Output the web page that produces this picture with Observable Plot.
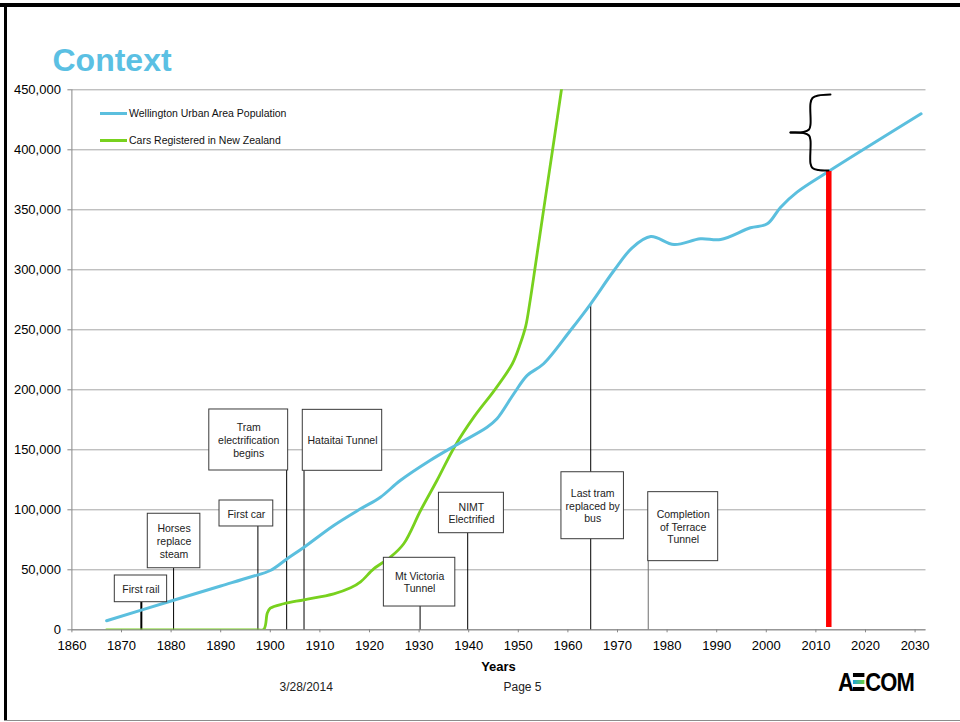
<!DOCTYPE html>
<html><head><meta charset="utf-8">
<script src="https://cdn.jsdelivr.net/npm/d3@7"></script>
<script src="https://cdn.jsdelivr.net/npm/@observablehq/plot@0.6"></script>
<style>
html,body{margin:0;padding:0;background:#fff;}
#page{position:relative;width:960px;height:722px;overflow:hidden;background:#fff;font-family:"Liberation Sans",Arial,sans-serif;color:#000;}
#page svg{position:absolute;left:0;top:0;}
.abs{position:absolute;white-space:nowrap;line-height:1;}
</style></head><body><div id="page"></div>
<script>
// ---- Data ----
const popYears  = [1867, 1880, 1890, 1896, 1900, 1903.4, 1906.8, 1912.8, 1918.2, 1922.2, 1926.2, 1932.2, 1937.3, 1943.7, 1945.7, 1949.1, 1951.8, 1955.1, 1960.5, 1964.6, 1969.3, 1973, 1976.7, 1981.4, 1986.7, 1990.8, 1996.8, 2000.2, 2002.9, 2006.2, 2012.3, 2031.2];
const popValues = [7500, 24000, 36500, 44000, 49400, 59200, 68800, 86900, 100800, 110500, 124400, 141100, 153600, 168800, 175800, 196700, 212000, 221700, 249400, 271700, 299400, 318500, 327700, 321000, 325800, 325200, 335000, 338300, 352200, 364700, 381300, 430000];

const carYears  = [1867, 1880, 1890, 1897, 1898.7, 1899.4, 1900, 1902.7, 1906.8, 1912.8, 1916.2, 1918.2, 1920.9, 1924.2, 1926.9, 1930.3, 1933.6, 1937.3, 1941, 1945.4, 1948.8, 1950.4, 1951.5, 1952.3, 1953.5, 1955.5, 1957.2, 1958.7, 1960.5];
const carValues = [0, 0, 0, 0, 500, 14000, 18000, 21700, 25000, 30000, 35000, 40000, 51000, 60500, 71700, 99400, 124400, 153600, 177000, 200800, 221700, 238300, 253000, 272000, 305000, 361000, 408000, 450000, 500000];

const seriesNames = ["Wellington Urban Area Population", "Cars Registered in New Zealand"];

const xTicks = d3.range(1860, 2031, 10);
const yTicks = d3.range(0, 450001, 50000);

// Events (year the line marks, value where its leader ends)
const eventLabels = ["First rail", "Horses\nreplace\nsteam", "First car", "Tram\nelectrification\nbegins", "Hataitai Tunnel", "Mt Victoria\nTunnel", "NIMT\nElectrified", "Last tram\nreplaced by\nbus", "Completion\nof Terrace\nTunnel"];
const eventYears  = [1874, 1880.5, 1897.5, 1903.3, 1906.8, 1930.2, 1939.8, 1964.6, 1976.2];
const eventTops   = [23000, 51300, 86100, 132750, 132500, 19400, 80500, 271700, 62000];

// Annotation label boxes, in data units (years / values)
const boxX1 = [1868.65, 1875.3, 1889.76, 1887.7, 1906.55, 1922.9, 1934.0, 1958.7, 1976.2];
const boxX2 = [1879.2, 1885.9, 1900.6, 1903.6, 1922.56, 1937.3, 1947.1, 1971.3, 1990.3];
const boxY1 = [23000, 51300, 86100, 132750, 132500, 19400, 80500, 75500, 57200];
const boxY2 = [45250, 96700, 107750, 183600, 183300, 60000, 114200, 131300, 114700];

// Current year marker and bracket
const nowYear = 2012.6;
const nowBottom = 2000;
const nowTop = 382000;
const braceUpperYears  = [2004.88, 2007.5, 2008.61, 2008.91, 2008.91, 2009.31, 2010.52, 2012.94];
const braceUpperValues = [414417, 414833, 416917, 421083, 438583, 443167, 445250, 446083];
const braceLowerYears  = [2004.88, 2007.5, 2008.61, 2008.91, 2008.91, 2009.31, 2010.52, 2012.54];
const braceLowerValues = [414417, 414000, 411917, 407750, 388583, 384833, 383167, 382750];

// ---- Build ----
const BLUE = "#5BBFDE", GREEN = "#78D11E";
const pop = popYears.map((x, i) => ({x, y: popValues[i]}));
const cars = carYears.map((x, i) => ({x, y: carValues[i]}));
const events = eventYears.map((x, i) => ({x, top: eventTops[i], label: eventLabels[i], i}));
const boxes = eventLabels.map((label, i) => ({label, x1: boxX1[i], x2: boxX2[i], y1: boxY1[i], y2: boxY2[i]}));
const braceUpper = braceUpperYears.map((x, i) => ({x, y: braceUpperValues[i]}));
const braceLower = braceLowerYears.map((x, i) => ({x, y: braceLowerValues[i]}));

const chart = Plot.plot({
  width: 960, height: 722,
  marginLeft: 71.4, marginRight: 34.5, marginTop: 89.3, marginBottom: 92.7,
  x: {domain: [1860, 2032.2]},
  y: {domain: [0, 450000]},
  style: {fontFamily: "'Liberation Sans', Arial, sans-serif", color: "#000", background: "transparent", overflow: "visible"},
  marks: [
    Plot.gridY({ticks: yTicks, stroke: "#a6a6a6", strokeOpacity: 1}),
    Plot.ruleY([0], {stroke: "#878787"}),
    Plot.ruleX([1860], {stroke: "#878787"}),
    Plot.axisY({ticks: yTicks, tickSize: 4, tickPadding: 7, tickFormat: d3.format(","), fontSize: 13, stroke: "#878787", fill: "#000", label: null}),
    Plot.axisX({ticks: xTicks, tickSize: 3, tickPadding: 8, tickFormat: d => String(d), fontSize: 13, stroke: "#878787", fill: "#000", label: null}),
    Plot.ruleX(events, {x: "x", y1: 0, y2: "top",
      stroke: d => d.i === 8 ? "#6e6e6e" : "#000",
      strokeWidth: d => d.i === 0 ? 2 : 1}),
    Plot.line(cars, {x: "x", y: "y", stroke: GREEN, strokeWidth: 2.8, curve: "catmull-rom", clip: true}),
    Plot.line(pop, {x: "x", y: "y", stroke: BLUE, strokeWidth: 3, curve: "catmull-rom"}),
    Plot.rect(boxes, {x1: "x1", x2: "x2", y1: "y1", y2: "y2", fill: "#fff", stroke: "#3a3a3a", strokeWidth: 1}),
    Plot.text(boxes, {x: d => (d.x1 + d.x2) / 2, y: d => (d.y1 + d.y2) / 2, text: "label", fontSize: 10.5, lineHeight: 1.2, fill: "#222"}),
    Plot.ruleX([nowYear], {y1: nowBottom, y2: nowTop, stroke: "#ff0000", strokeWidth: 5.5}),
    Plot.line(braceUpper, {x: "x", y: "y", stroke: "#000", strokeWidth: 2, curve: "catmull-rom"}),
    Plot.line(braceLower, {x: "x", y: "y", stroke: "#000", strokeWidth: 2, curve: "catmull-rom"})
  ]
});

const page = document.getElementById("page");
page.appendChild(chart);

function addDiv(html, css) {
  const d = document.createElement("div");
  d.className = "abs";
  d.innerHTML = html;
  Object.assign(d.style, css);
  page.appendChild(d);
  return d;
}

// frame
addDiv("", {left: "0px", top: "3px", width: "960px", height: "3.5px", background: "#000"});
addDiv("", {left: "4px", top: "3px", width: "3px", height: "718px", background: "#000"});
addDiv("", {left: "4px", top: "719.5px", width: "956px", height: "1px", background: "#8c8c8c"});

// title
addDiv("Context", {left: "52.5px", top: "43.6px", fontSize: "32px", fontWeight: "bold", color: "#5BC0E3"});

// legend
addDiv("", {left: "100px", top: "111.8px", width: "27px", height: "3px", background: BLUE});
addDiv(seriesNames[0], {left: "129px", top: "108.2px", fontSize: "10.5px", color: "#111"});
addDiv("", {left: "100px", top: "138.6px", width: "27px", height: "3px", background: GREEN});
addDiv(seriesNames[1], {left: "129px", top: "135px", fontSize: "10.5px", color: "#111"});

// axis title and footer
addDiv("Years", {left: "498.5px", top: "659.5px", fontSize: "13px", fontWeight: "bold", transform: "translateX(-50%)"});
addDiv("3/28/2014", {left: "279.5px", top: "680.8px", fontSize: "12px", color: "#222"});
addDiv("Page 5", {left: "503.5px", top: "680.8px", fontSize: "12px", color: "#222"});

// AECOM logo
const logo = addDiv(
  '<span>A</span><span style="display:inline-block;position:relative;width:13px;height:18px;margin:0 1px 0 0;vertical-align:baseline;">' +
  '<span style="position:absolute;left:0;top:0;width:13px;height:4px;background:#000"></span>' +
  '<span style="position:absolute;left:0;top:7px;width:13px;height:4px;background:linear-gradient(90deg,#1aa3e0,#6fd23a)"></span>' +
  '<span style="position:absolute;left:0;top:14px;width:13px;height:4px;background:#000"></span></span><span>COM</span>',
  {left: "838px", top: "670px", fontSize: "25px", fontWeight: "bold", letterSpacing: "-1px", transform: "scaleX(0.88)", transformOrigin: "left top", color: "#000"});
</script>
</body></html>
